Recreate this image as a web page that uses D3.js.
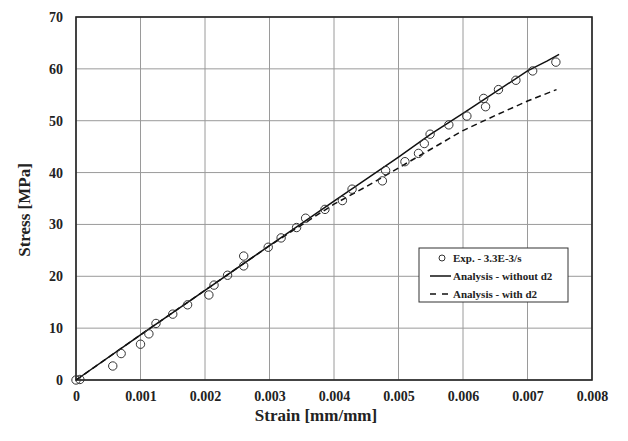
<!DOCTYPE html>
<html>
<head>
<meta charset="utf-8">
<script src="https://cdn.jsdelivr.net/npm/d3@7"></script>
<style>
  body { margin: 0; background: #fff; }
  svg text { font-family: "Liberation Serif", "Times New Roman", serif; font-weight: bold; fill: #222; }
</style>
</head>
<body>
<svg class="main"></svg>
<script>
// experimental points
let expStrain = [0, 0.00006, 0.00057, 0.0007, 0.001, 0.00113, 0.00124, 0.0015, 0.00173, 0.00206, 0.00214, 0.00235, 0.0026, 0.0026, 0.00298, 0.00318, 0.00342, 0.00356, 0.00386, 0.00413, 0.00428, 0.00475, 0.0048, 0.0051, 0.00531, 0.0054, 0.00549, 0.00578, 0.00606, 0.00632, 0.00635, 0.00655, 0.00682, 0.00708, 0.00744];
let expStress = [0, 0.1, 2.7, 5.1, 6.9, 8.9, 10.9, 12.7, 14.5, 16.4, 18.3, 20.2, 22.0, 23.9, 25.6, 27.4, 29.4, 31.2, 32.9, 34.6, 36.8, 38.4, 40.4, 42.1, 43.7, 45.6, 47.4, 49.2, 50.9, 54.3, 52.7, 56.0, 57.8, 59.6, 61.3];

// analysis - without d2
let noD2Strain = [0, 0.001, 0.002, 0.003, 0.004, 0.005, 0.0055, 0.006, 0.0065, 0.007, 0.0073, 0.00749];
let noD2Stress = [0, 8.7, 17.3, 25.9, 34.5, 43.0, 47.4, 51.4, 55.5, 59.6, 61.5, 62.8];

// analysis - with d2
let withD2Strain = [0, 0.001, 0.002, 0.003, 0.0035, 0.004, 0.0045, 0.005, 0.0055, 0.006, 0.0065, 0.007, 0.00745];
let withD2Stress = [0, 8.7, 17.3, 25.9, 29.9, 33.9, 37.3, 40.9, 44.5, 48.1, 51.0, 53.8, 56.0];

let xTicks = [0, 0.001, 0.002, 0.003, 0.004, 0.005, 0.006, 0.007, 0.008];
let yTicks = [0, 10, 20, 30, 40, 50, 60, 70];
let legendLabels = ['Exp. - 3.3E-3/s', 'Analysis - without d2', 'Analysis - with d2'];

let w = 628, h = 441;
let pLeft = 76, pRight = 592, pTop = 17, pBottom = 380;

let svg = d3.select('.main').attr('width', w).attr('height', h);

let x = d3.scaleLinear().domain([0, 0.008]).range([pLeft, pRight]);
let y = d3.scaleLinear().domain([0, 70]).range([pBottom, pTop]);

// grid
svg.append('g').selectAll('line')
  .data(xTicks)
  .enter().append('line')
  .attr('x1', d => x(d)).attr('x2', d => x(d))
  .attr('y1', pTop).attr('y2', pBottom)
  .attr('stroke', '#9a9a9a').attr('stroke-width', 1);

svg.append('g').selectAll('line')
  .data(yTicks)
  .enter().append('line')
  .attr('x1', pLeft).attr('x2', pRight)
  .attr('y1', d => y(d)).attr('y2', d => y(d))
  .attr('stroke', '#9a9a9a').attr('stroke-width', 1);

// tick labels via axes
let xAxis = svg.append('g')
  .attr('transform', `translate(0,${pBottom})`)
  .call(d3.axisBottom(x).tickValues(xTicks).tickSize(0).tickPadding(11)
    .tickFormat(d => d === 0 ? '0' : d3.format('.3f')(d)));
xAxis.select('.domain').remove();
xAxis.selectAll('text').style('font-size', '14px').attr('fill', '#222');

let yAxis = svg.append('g')
  .attr('transform', `translate(${pLeft},0)`)
  .call(d3.axisLeft(y).tickValues(yTicks).tickSize(0).tickPadding(13));
yAxis.select('.domain').remove();
yAxis.selectAll('text').style('font-size', '14px').attr('fill', '#222');

// plot border
svg.append('rect')
  .attr('x', pLeft).attr('y', pTop)
  .attr('width', pRight - pLeft).attr('height', pBottom - pTop)
  .attr('fill', 'none').attr('stroke', '#222').attr('stroke-width', 1.6);

// lines
let line = d3.line().x(d => x(d[0])).y(d => y(d[1]));

svg.append('path')
  .datum(d3.zip(withD2Strain, withD2Stress))
  .attr('d', line)
  .attr('fill', 'none').attr('stroke', '#111').attr('stroke-width', 1.5)
  .attr('stroke-dasharray', '6,4');

svg.append('path')
  .datum(d3.zip(noD2Strain, noD2Stress))
  .attr('d', line)
  .attr('fill', 'none').attr('stroke', '#111').attr('stroke-width', 1.5);

// points
svg.append('g').selectAll('circle')
  .data(d3.zip(expStrain, expStress))
  .enter().append('circle')
  .attr('cx', d => x(d[0])).attr('cy', d => y(d[1]))
  .attr('r', 4.2)
  .attr('fill', 'none').attr('stroke', '#333').attr('stroke-width', 1);

// axis titles
svg.append('text')
  .attr('x', (pLeft + pRight) / 2 - 18).attr('y', 421)
  .attr('text-anchor', 'middle')
  .style('font-size', '17px')
  .text('Strain [mm/mm]');

svg.append('text')
  .attr('transform', 'translate(30,210) rotate(-90)')
  .attr('text-anchor', 'middle')
  .style('font-size', '17px')
  .text('Stress [MPa]');

// legend
let lg = svg.append('g');
lg.append('rect')
  .attr('x', 419).attr('y', 248).attr('width', 149).attr('height', 54)
  .attr('fill', '#fff').attr('stroke', '#333').attr('stroke-width', 1);

let rowY = [258, 276, 294];
lg.append('circle').attr('cx', 442).attr('cy', rowY[0]).attr('r', 3)
  .attr('fill', 'none').attr('stroke', '#333').attr('stroke-width', 1);
lg.append('line').attr('x1', 430).attr('x2', 451).attr('y1', rowY[1]).attr('y2', rowY[1])
  .attr('stroke', '#111').attr('stroke-width', 1.5);
lg.append('line').attr('x1', 430).attr('x2', 449).attr('y1', rowY[2]).attr('y2', rowY[2])
  .attr('stroke', '#111').attr('stroke-width', 1.5).attr('stroke-dasharray', '6,6');

lg.selectAll('text')
  .data(legendLabels)
  .enter().append('text')
  .attr('x', 453).attr('y', (d, i) => rowY[i] + 4)
  .style('font-size', '11px')
  .text(d => d);
</script>
</body>
</html>
